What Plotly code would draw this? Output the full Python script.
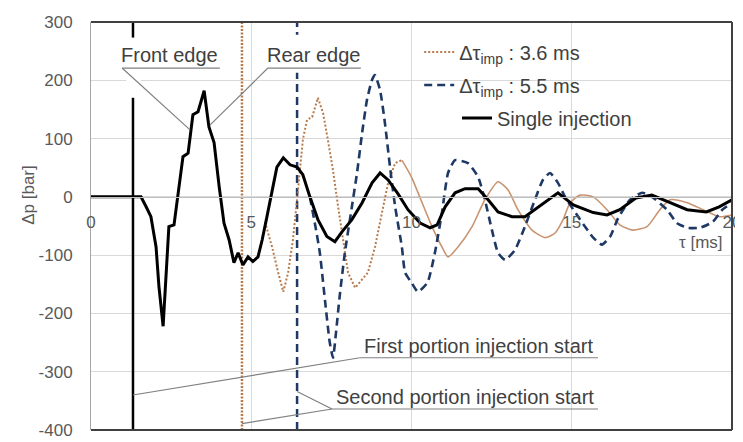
import plotly.graph_objects as go

# ---------------- data ----------------
single_t = [0, 1.56, 1.72, 1.87, 2.03, 2.12, 2.25, 2.43, 2.59, 2.75, 2.87, 3.03, 3.18, 3.34, 3.53, 3.68,
            3.84, 4.0, 4.15, 4.31, 4.46, 4.59, 4.74, 4.90, 5.05, 5.21, 5.34, 5.49, 5.65, 5.80, 6.0,
            6.21, 6.43, 6.61, 6.83, 7.08, 7.36, 7.61, 7.83, 8.14, 8.46, 8.77, 9.02, 9.27, 9.58, 9.89,
            10.27, 10.58, 10.8, 11.05, 11.36, 11.67, 12.08, 12.39, 12.70, 13.14, 13.54, 13.85, 14.26,
            14.57, 15.05, 15.67, 16.1, 16.5, 17.0, 17.5, 18.07, 18.6, 19.2, 19.6, 20.0]
single_p = [0, 0, -17, -34, -86, -154, -222, -51, -48, 17, 69, 75, 141, 146, 182, 120,
            93, 17, -45, -74, -113, -96, -117, -103, -111, -103, -74, -34, 12, 51, 67,
            55, 51, 38, 0, -39, -68, -77, -60, -39, -10, 24, 41, 29, 5, -22,
            -45, -53, -48, -17, 7, 14, 14, -5, -26, -34, -34, -22, -5,
            7, -14, -27, -31, -22, -2, 3, -10, -22, -26, -17, -5]

dual36_t = [5.43, 5.65, 5.84, 6.0, 6.15, 6.30, 6.46, 6.61, 6.74, 6.90, 7.08, 7.24, 7.39, 7.55, 7.71,
            7.86, 8.02, 8.24, 8.46, 8.64, 8.86, 9.08, 9.27, 9.49, 9.70, 10.0, 10.33, 10.64, 10.95,
            11.14, 11.45, 11.89, 12.29, 12.70, 13.01, 13.32, 13.76, 14.17, 14.48, 14.73, 14.95,
            15.26, 15.67, 16.1, 16.5, 16.9, 17.35, 17.75, 18.07, 18.6, 19.1, 19.6, 20.0]
dual36_p = [-43, -86, -130, -163, -130, -74, 12, 98, 132, 137, 170, 144, 98, 46, -17,
            -74, -130, -156, -142, -130, -86, -27, 24, 58, 63, 34, -10, -51, -86,
            -103, -86, -51, -5, 26, 12, -22, -57, -70, -62, -39, -10,
            3, 0, -22, -48, -57, -51, -22, -5, -10, -22, -34, -31]
dual36_dotted_until = 9.70

dual55_t = [6.83, 7.0, 7.14, 7.3, 7.45, 7.55, 7.65, 7.75, 7.92, 8.14, 8.3, 8.46, 8.61, 8.77, 8.86, 9.02,
            9.17, 9.33, 9.49, 9.7, 9.8, 10.0, 10.2, 10.5, 10.73, 10.95, 11.14, 11.36, 11.76, 12.08,
            12.29, 12.51, 12.70, 12.92, 13.23, 13.54, 13.85, 14.1, 14.32, 14.57, 14.79, 15.26,
            15.67, 15.94, 16.2, 16.45, 16.82, 17.2, 17.5, 17.97, 18.28, 18.6, 19.0, 19.4, 19.7, 20.0]
dual55_p = [0, -50, -96, -177, -250, -276, -230, -175, -96, -17, 41, 110, 166, 201, 209, 183,
            127, 51, -17, -86, -130, -147, -163, -147, -96, -27, 41, 63, 58, 34,
            -5, -57, -96, -108, -91, -51, -5, 29, 41, 24, 0, -39,
            -70, -82, -68, -36, -5, 7, 0, -22, -45, -53, -53, -43, -22, -10]

injection_start_single = 1.31
injection_start_36 = 4.71
injection_start_55 = 6.43

x_ticks = [0, 5, 10, 15, 20]
y_ticks = [-400, -300, -200, -100, 0, 100, 200, 300]
y_tick_text = ["-400", "-300", "-200", "-100", "0", "100", "200", "300"]

legend_36 = "Δτ<sub>imp</sub> : 3.6 ms"
legend_55 = "Δτ<sub>imp</sub> : 5.5 ms"
legend_single = "Single injection"

# ---------------- styles ----------------
BLACK = "#000000"
BROWN = "#B87A4B"
BROWN_LIGHT = "#C99470"
NAVY = "#1F3864"
GRID = "#D9D9D9"
TXT = "#404040"
TICK = "#595959"
LEAD = "#808080"
FONT = "Liberation Sans, Arial, sans-serif"

Y_MIN, Y_MAX = -400, 300

fig = go.Figure()

# vertical injection-start lines
fig.add_trace(go.Scatter(x=[injection_start_single] * 2, y=[Y_MIN, Y_MAX], mode="lines",
                         line=dict(color=BLACK, width=2.5), showlegend=False, hoverinfo="skip"))
fig.add_trace(go.Scatter(x=[injection_start_36] * 2, y=[Y_MIN, Y_MAX], mode="lines",
                         line=dict(color=BROWN, width=2.5, dash="2px,1.5px"), showlegend=False, hoverinfo="skip"))
fig.add_trace(go.Scatter(x=[injection_start_55] * 2, y=[Y_MIN, Y_MAX], mode="lines",
                         line=dict(color=NAVY, width=2.5, dash="8px,5px"), showlegend=False, hoverinfo="skip"))

# 3.6 ms: dotted part then solid thin part
i_split = dual36_t.index(dual36_dotted_until)
fig.add_trace(go.Scatter(x=dual36_t[:i_split + 1], y=dual36_p[:i_split + 1], mode="lines",
                         line=dict(color=BROWN, width=2, dash="2px,2px"),
                         name=legend_36, legend="legend"))
fig.add_trace(go.Scatter(x=dual36_t[i_split:], y=dual36_p[i_split:], mode="lines",
                         line=dict(color=BROWN_LIGHT, width=1.6, shape="spline", smoothing=0.6),
                         showlegend=False))
# 5.5 ms dashed
fig.add_trace(go.Scatter(x=dual55_t, y=dual55_p, mode="lines",
                         line=dict(color=NAVY, width=2.6, dash="8px,5px", shape="spline", smoothing=0.5),
                         name=legend_55, legend="legend2"))
# single injection
fig.add_trace(go.Scatter(x=single_t, y=single_p, mode="lines",
                         line=dict(color=BLACK, width=3),
                         name=legend_single, legend="legend3"))

shapes = []
# white label boxes hiding the vertical lines
for (x0, x1, y0, y1) in [(0.97, 4.05, 205, 273), (1.1, 1.55, 170, 273), (5.37, 8.45, 213, 278)]:
    shapes.append(dict(type="rect", xref="x", yref="y", x0=x0, x1=x1, y0=y0, y1=y1,
                       fillcolor="white", line=dict(width=0), layer="above"))
# leader lines / underlines
for (x0, y0, x1, y1) in [(0.97, 221, 4.02, 221), (0.97, 221, 3.09, 115),
                         (5.52, 221, 8.42, 221), (5.52, 221, 3.71, 123),
                         (8.39, -276, 15.82, -276), (8.39, -276, 1.31, -340),
                         (7.52, -364, 15.82, -364), (7.52, -364, 6.43, -334), (7.52, -364, 4.71, -389)]:
    shapes.append(dict(type="line", xref="x", yref="y", x0=x0, y0=y0, x1=x1, y1=y1,
                       line=dict(color=LEAD, width=1.2), layer="above"))
# plot frame (top, right, bottom)
for (x0, y0, x1, y1) in [(0, 1, 1, 1), (1, 0, 1, 1), (0, 0, 1, 0)]:
    shapes.append(dict(type="line", xref="paper", yref="paper", x0=x0, y0=y0, x1=x1, y1=y1,
                       line=dict(color="#404040", width=2), layer="above"))

annotations = [
    dict(x=2.46, y=243, text="Front edge"),
    dict(x=6.95, y=243, text="Rear edge"),
    dict(x=12.1, y=-256, text="First portion injection start"),
    dict(x=11.67, y=-343, text="Second portion injection start"),
]
for a in annotations:
    a.update(xref="x", yref="y", showarrow=False, xanchor="center", yanchor="middle",
             font=dict(family=FONT, size=20, color=TXT))
annotations.append(dict(x=19.03, y=-79, xref="x", yref="y", text="τ [ms]", showarrow=False,
                        xanchor="center", yanchor="middle",
                        font=dict(family=FONT, size=17, color=TICK)))
annotations.append(dict(x=-0.097, y=0.576, xref="paper", yref="paper", text="Δp [bar]",
                        textangle=-90, showarrow=False, xanchor="center", yanchor="middle",
                        font=dict(family=FONT, size=17, color=TICK)))

zero_pos = (0 - Y_MIN) / (Y_MAX - Y_MIN)

legend_style = dict(xanchor="left", yanchor="middle", bgcolor="rgba(0,0,0,0)",
                    font=dict(family=FONT, size=20, color=TXT), itemwidth=30)

# the page body adds an 8px offset, so the figure is 8px smaller and margins shifted
fig.update_layout(
    width=735, height=434,
    margin=dict(l=83, r=11, t=14, b=12, autoexpand=False),
    plot_bgcolor="white", paper_bgcolor="white",
    font=dict(family=FONT, size=17, color=TICK),
    shapes=shapes, annotations=annotations,
    showlegend=True,
    legend=dict(x=0.512, y=0.9265, **legend_style),
    legend2=dict(x=0.512, y=0.8456, **legend_style),
    legend3=dict(x=0.571, y=0.7647, **legend_style),
    xaxis=dict(range=[0, 20], tickvals=x_ticks, showgrid=True, gridcolor=GRID, gridwidth=1,
               anchor="free", position=zero_pos, showline=True, linecolor="#BFBFBF", linewidth=1,
               ticks="", zeroline=False, ticklabelstandoff=10, automargin=False,
               tickfont=dict(family=FONT, size=17, color=TICK)),
    yaxis=dict(range=[Y_MIN, Y_MAX], tickvals=y_ticks, ticktext=y_tick_text,
               showgrid=True, gridcolor=GRID, gridwidth=1, zeroline=False,
               showline=True, linecolor="#A6A6A6", linewidth=1, ticks="", automargin=False,
               ticklabelstandoff=14, tickfont=dict(family=FONT, size=17, color=TICK)),
)

fig.write_html("out.html")
